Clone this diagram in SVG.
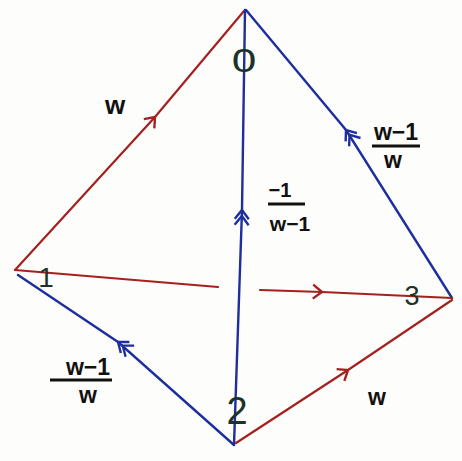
<svg xmlns="http://www.w3.org/2000/svg" width="462" height="461" viewBox="0 0 462 461">
<defs>
<style>
.red{stroke:#a3211f;stroke-width:2.2;fill:none;stroke-linecap:round}
.blue{stroke:#1e2e9c;stroke-width:2.4;fill:none;stroke-linecap:round}
.lbl{font-family:"Liberation Sans",Arial,sans-serif;font-weight:bold;fill:#111;}
.num{font-family:"Liberation Sans",Arial,sans-serif;fill:#1b3326;}
.bar{stroke:#111;stroke-width:3}
</style>
<marker id="ra" viewBox="-14 -10 18 20" markerWidth="18" markerHeight="20" refX="0" refY="0" orient="auto" markerUnits="userSpaceOnUse">
<path d="M-9,-7 L0,0 L-9,7" fill="none" stroke="#a3211f" stroke-width="2.4"/>
</marker>
<marker id="ba" viewBox="-20 -10 24 20" markerWidth="24" markerHeight="20" refX="0" refY="0" orient="auto" markerUnits="userSpaceOnUse">
<path d="M-9,-7 L0,0 L-9,7 M-15,-7 L-6,0 L-15,7" fill="none" stroke="#1e2e9c" stroke-width="2.4"/>
</marker>
</defs>
<rect width="462" height="461" fill="#fdfdfb"/>
<g id="connectors">
<polyline class="red" points="15,270 155,117 244,11" marker-mid="url(#ra)"/>
<polyline class="blue" points="452,298 346,130 246,10" marker-mid="url(#ba)"/>
<polyline class="blue" points="234,445 242,210 245,10" marker-mid="url(#ba)"/>
<polyline class="blue" points="234,445 118,342 18,275" marker-mid="url(#ba)"/>
<polyline class="red" points="236,443 348,370 452,300" marker-mid="url(#ra)"/>
<polyline class="red" points="15,270 218,287"/>
<polyline class="red" points="260,290 322,292 452,298" marker-mid="url(#ra)"/>
</g>
<g id="node0"><text class="num" x="244" y="72" font-size="34" text-anchor="middle" transform="translate(244 62) scale(1.3 1) translate(-244 -62)">0</text></g>
<g id="node1"><text class="num" x="46" y="287" font-size="28" text-anchor="middle">1</text></g>
<g id="node2"><text class="num" x="237" y="424" font-size="38" text-anchor="middle">2</text></g>
<g id="node3"><text class="num" x="412" y="305" font-size="27" text-anchor="middle">3</text></g>
<g id="labels">
<text class="lbl" x="115" y="114" font-size="26" text-anchor="middle">w</text>
<text class="lbl" x="396" y="140" font-size="23" text-anchor="middle">w−1</text>
<line class="bar" x1="372" y1="146" x2="420" y2="146"/>
<text class="lbl" x="393" y="168" font-size="23" text-anchor="middle">w</text>
<text class="lbl" x="280" y="197" font-size="20" text-anchor="middle">−1</text>
<line class="bar" x1="268" y1="204" x2="305" y2="204"/>
<text class="lbl" x="290" y="231" font-size="21" text-anchor="middle">w−1</text>
<text class="lbl" x="88" y="375" font-size="23" text-anchor="middle">w−1</text>
<line class="bar" x1="50" y1="380" x2="112" y2="380"/>
<text class="lbl" x="88" y="403" font-size="23" text-anchor="middle">w</text>
<text class="lbl" x="377" y="405" font-size="23" text-anchor="middle">w</text>
</g>
</svg>
